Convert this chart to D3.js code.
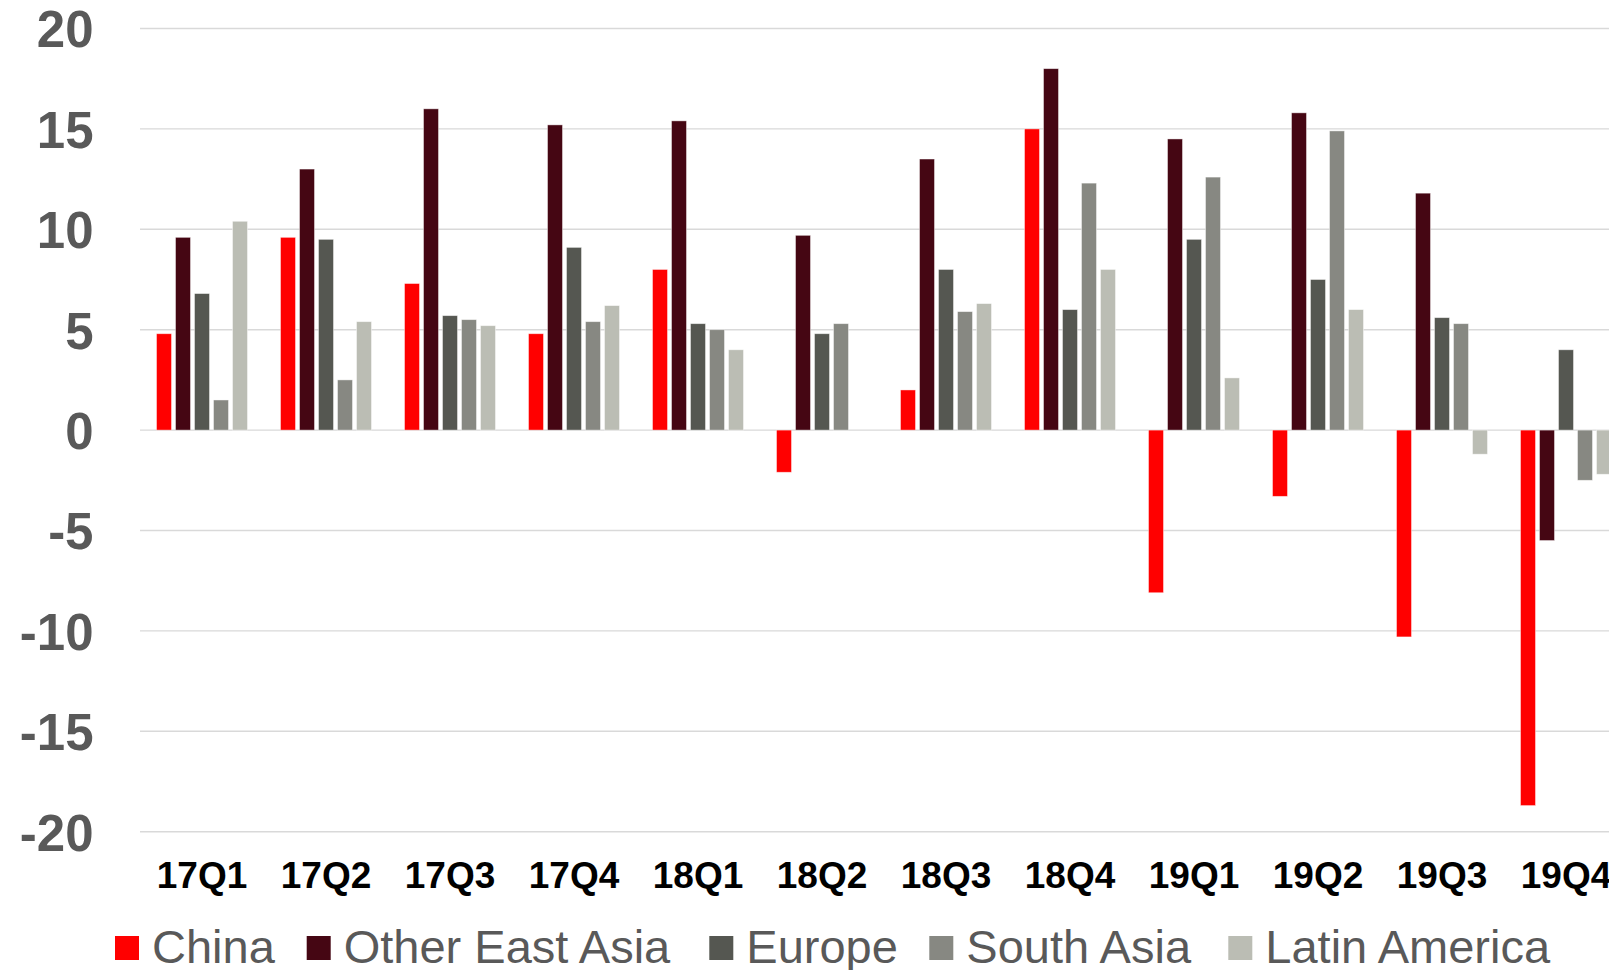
<!DOCTYPE html>
<html>
<head>
<meta charset="utf-8">
<script src="https://cdn.jsdelivr.net/npm/d3@7"></script>
<style>
  html, body { margin: 0; padding: 0; background: #fff; overflow: hidden; }
  svg { display: block; font-family: "Liberation Sans", Arial, sans-serif; }
</style>
</head>
<body>
<svg id="chart" width="1609" height="970"></svg>
<script>
// Quarterly contributions by region
const quarters = ["17Q1","17Q2","17Q3","17Q4","18Q1","18Q2","18Q3","18Q4","19Q1","19Q2","19Q3","19Q4"];
const seriesNames = ["China","Other East Asia","Europe","South Asia","Latin America"];
const china         = [4.8, 9.6, 7.3, 4.8, 8.0, -2.1, 2.0, 15.0, -8.1, -3.3, -10.3, -18.7];
const otherEastAsia = [9.6, 13.0, 16.0, 15.2, 15.4, 9.7, 13.5, 18.0, 14.5, 15.8, 11.8, -5.5];
const europe        = [6.8, 9.5, 5.7, 9.1, 5.3, 4.8, 8.0, 6.0, 9.5, 7.5, 5.6, 4.0];
const southAsia     = [1.5, 2.5, 5.5, 5.4, 5.0, 5.3, 5.9, 12.3, 12.6, 14.9, 5.3, -2.5];
const latinAmerica  = [10.4, 5.4, 5.2, 6.2, 4.0, 0, 6.3, 8.0, 2.6, 6.0, -1.2, -2.2];
const yTicks = [20, 15, 10, 5, 0, -5, -10, -15, -20];
const colors = ["#ff0000", "#450613", "#555751", "#878882", "#bbbdb4"];

const seriesValues = [china, otherEastAsia, europe, southAsia, latinAmerica];

const svg = d3.select("#chart");

// Plot area extends past the right edge of the canvas
const plotLeft = 140, plotRight = 1628;
const x = d3.scaleBand()
  .domain(quarters)
  .range([plotLeft, plotRight])
  .paddingInner(33 / 124)
  .paddingOuter(33 / 248);
const xs = d3.scaleBand()
  .domain(seriesNames)
  .range([0, x.bandwidth()])
  .paddingInner(4 / 19)
  .paddingOuter(0);
const y = d3.scaleLinear().domain([-20, 20]).range([831.7, 28.5]);

// Gridlines
svg.append("g")
  .selectAll("line")
  .data(yTicks)
  .join("line")
  .attr("x1", plotLeft)
  .attr("x2", 1620)
  .attr("y1", d => y(d))
  .attr("y2", d => y(d))
  .attr("stroke", "#d9d9d9")
  .attr("stroke-width", 1.4);

// Y axis labels (plain hyphen for negatives)
const yAxis = d3.axisLeft(y).tickValues(yTicks).tickSize(0).tickPadding(0).tickFormat(d => String(d));
const gy = svg.append("g").attr("transform", "translate(93.5,0)").call(yAxis);
gy.select(".domain").remove();
gy.selectAll("text")
  .attr("fill", "#595959")
  .attr("font-size", 51)
  .attr("font-weight", "bold")
  .attr("font-family", "Liberation Sans, Arial, sans-serif")
  .attr("dy", "0.36em")
  .attr("x", 0);

// Bars
const rows = [];
seriesNames.forEach((s, si) => {
  quarters.forEach((q, qi) => {
    rows.push({ quarter: q, series: s, si, value: seriesValues[si][qi] });
  });
});

svg.append("g")
  .selectAll("rect")
  .data(rows.filter(d => d.value !== 0))
  .join("rect")
  .attr("x", d => x(d.quarter) + xs(d.series))
  .attr("width", xs.bandwidth())
  .attr("y", d => y(Math.max(0, d.value)))
  .attr("height", d => Math.abs(y(d.value) - y(0)))
  .attr("fill", d => colors[d.si])
  .attr("stroke", "rgba(255,255,255,0.55)")
  .attr("stroke-width", 0.8);

// X axis labels
const xAxis = d3.axisBottom(x).tickSize(0).tickPadding(0);
const gx = svg.append("g").attr("transform", "translate(0,888.3)").call(xAxis);
gx.select(".domain").remove();
gx.selectAll("text")
  .attr("fill", "#000")
  .attr("font-size", 37)
  .attr("font-weight", "bold")
  .attr("font-family", "Liberation Sans, Arial, sans-serif")
  .attr("y", 0)
  .attr("dy", 0);

// Legend: swatch left edges along the bottom row
const legendSwatchX = [115, 306.7, 709.3, 929.3, 1228.3];
const legend = svg.append("g");
seriesNames.forEach((name, i) => {
  const lx = legendSwatchX[i];
  legend.append("rect")
    .attr("x", lx).attr("y", 936)
    .attr("width", 24).attr("height", 24)
    .attr("fill", colors[i]);
  legend.append("text")
    .attr("x", lx + 37)
    .attr("y", 962.7)
    .attr("font-size", 47)
    .attr("fill", "#595959")
    .text(name);
});
</script>
</body>
</html>
